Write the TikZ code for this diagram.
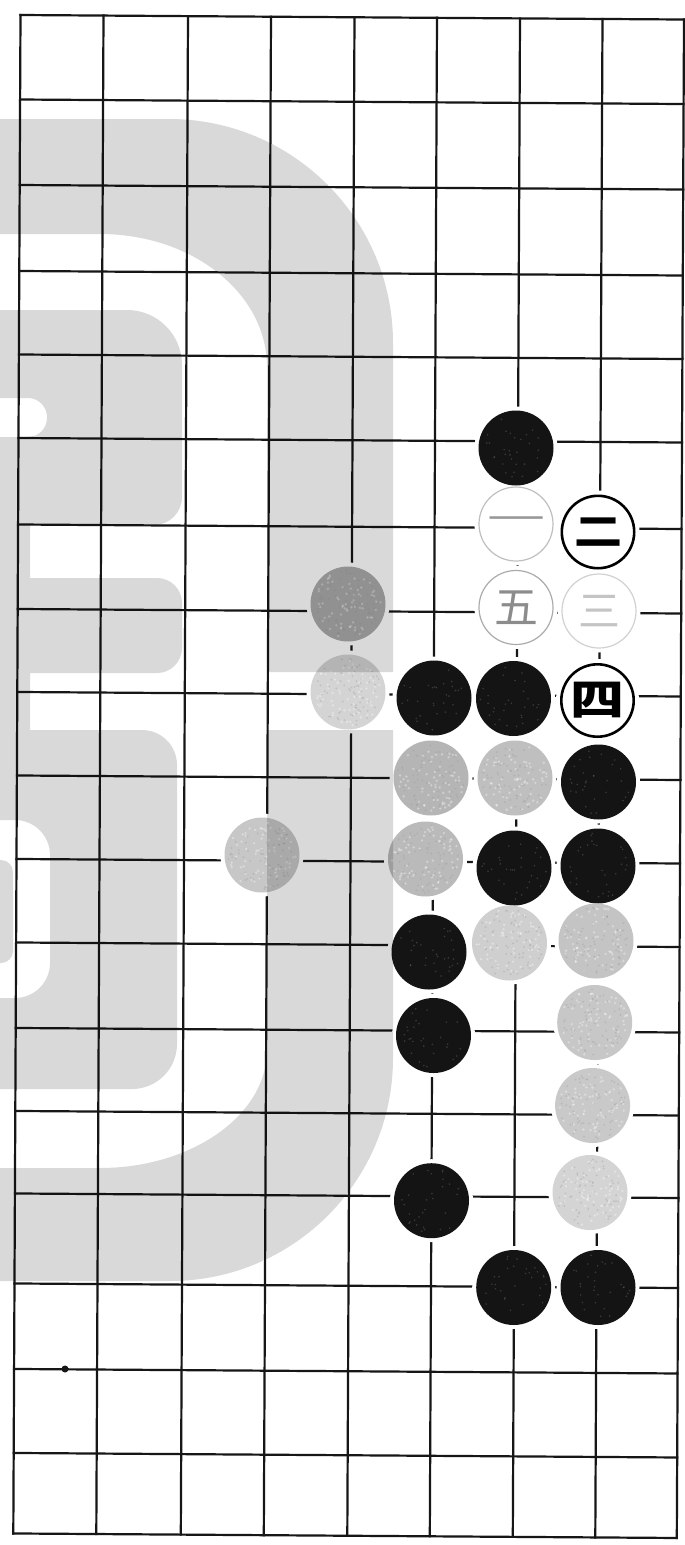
\documentclass[tikz,border=0pt]{standalone}
\usepackage{fontspec}
\usepackage{graphicx}
\newfontfamily\cjk{Noto Sans CJK SC}
\definecolor{wm}{RGB}{217,217,217}
\definecolor{ink}{RGB}{22,22,22}
\definecolor{stblack}{RGB}{20,20,20}
\tikzset{
  gridline/.style={line width=2.2pt, draw=ink, line cap=rect},
  stone/.style={circle, inner sep=0pt, outer sep=0pt, minimum size=75pt},
  bstone/.style={stone, fill=stblack},
  wstone/.style={stone, fill=#1},
  halo/.style={circle, inner sep=0pt, outer sep=0pt, minimum size=83pt, fill=white},
  numthick/.style={stone, minimum size=72.4pt, draw=black, line width=2.6pt, fill=white},
  numthin/.style={stone, minimum size=74pt, draw=#1, line width=1.2pt, fill=white},
  numtext/.style={inner sep=0pt, outer sep=0pt, font=\cjk, text=#1},
  speck/.style={fill=#1, opacity=0.35},
}
\begin{document}
\begin{tikzpicture}[x=1pt,y=-1pt]
\pgfmathsetseed{4242}
\useasboundingbox (0,0) rectangle (685,1545);
\fill[white] (0,0) rectangle (685,1545);
% grid coordinates
\def\colX{{20.5,103.5,188,271,354.5,437,520,602.5,684}}
\def\rowY{{15,99.5,185,271,354.5,438,524.5,609,692,775.5,859,942.5,1028,1111,1193.5,1283.5,1369,1453,1533.5}}
\foreach \i in {0,...,8}{\foreach \j in {0,...,18}{
  \pgfmathsetmacro\xx{\colX[\i]-0.4*\j}
  \pgfmathsetmacro\yy{\rowY[\j]+0.0068*(\xx-20)}
  \coordinate (g-\i-\j) at (\xx,\yy);
}}
\foreach \j in {0,...,18} \draw[gridline] (g-0-\j) -- (g-8-\j);
\foreach \i in {0,...,8} \draw[gridline] (g-\i-0) -- (g-\i-18);
\fill[ink] (65,1369) circle (3.5);
% stone centres
\foreach \nm/\x/\y in {b1/516/448, n1/516/524, n2/598/532, w1/348/604, n5/516/607.5, n3/599/611,
  w2/348/692, b2/434/698, b3/513.5/698.5, n4/597.5/700.5, w3/431/778, w4/515/778, b4/598.5/782,
  w5/262/855, w6/425.5/859, b5/514/868, b6/598/866, b7/429/952, w7/509.5/943, w8/596/941,
  b8/433.5/1035.5, w9/594.7/1022.5, w10/592.6/1105.5, b9/431.5/1200.7, w11/590/1192.5,
  b10/513.7/1287.5, b11/598/1287.5}
  \coordinate (s-\nm) at (\x,\y);
\foreach \nm in {b1,n1,n2,w1,n5,n3,w2,b2,b3,n4,w3,w4,b4,w5,w6,b5,b6,b7,w7,w8,b8,w9,w10,b9,w11,b10,b11}
  \node[halo] (h-\nm) at (s-\nm) {};
% black stones
\node[bstone] (b1) at (s-b1) {};
\node[bstone] (b2) at (s-b2) {};
\node[bstone] (b3) at (s-b3) {};
\node[bstone] (b4) at (s-b4) {};
\node[bstone] (b5) at (s-b5) {};
\node[bstone] (b6) at (s-b6) {};
\node[bstone] (b7) at (s-b7) {};
\node[bstone] (b8) at (s-b8) {};
\node[bstone] (b9) at (s-b9) {};
\node[bstone] (b10) at (s-b10) {};
\node[bstone] (b11) at (s-b11) {};
% grey (white) stones
\node[wstone=black!33] (w1) at (s-w1) {};
\node[wstone=black!17] (w2) at (s-w2) {};
\node[wstone=black!29] (w3) at (s-w3) {};
\node[wstone=black!25] (w4) at (s-w4) {};
\node[wstone=black!22] (w5) at (s-w5) {};
\node[wstone=black!27] (w6) at (s-w6) {};
\node[wstone=black!19] (w7) at (s-w7) {};
\node[wstone=black!23] (w8) at (s-w8) {};
\node[wstone=black!22] (w9) at (s-w9) {};
\node[wstone=black!21] (w10) at (s-w10) {};
\node[wstone=black!17] (w11) at (s-w11) {};
% printed grain on the stones
\foreach \nm in {w1,w2,w3,w4,w5,w6,w7,w8,w9,w10,w11}{
  \foreach \k in {1,...,70}{
    \pgfmathsetmacro\ang{360*rnd}\pgfmathsetmacro\rr{34*sqrt(rnd)}
    \fill[speck=white] (\nm) ++(\ang:\rr) circle (1.3);
    \pgfmathsetmacro\angb{360*rnd}\pgfmathsetmacro\rrb{34*sqrt(rnd)}
    \fill[speck=black!40] (\nm) ++(\angb:\rrb) circle (1.0);
  }}
\foreach \nm in {b1,b2,b3,b4,b5,b6,b7,b8,b9,b10,b11}{
  \foreach \k in {1,...,30}{
    \pgfmathsetmacro\ang{360*rnd}\pgfmathsetmacro\rr{33*sqrt(rnd)}
    \fill[speck=black!50] (\nm) ++(\ang:\rr) circle (0.9);
  }}
% numbered stones
\node[numthin=black!25] (n1) at (s-n1) {};
\node[numtext=black!40] (n1t) at (n1) {\fontsize{58}{58}\selectfont\scalebox{1}[0.55]{一}};
\node[numthick] (n2) at (s-n2) {};
\node[numtext=black] (n2t) at (n2) {\bfseries\fontsize{48}{48}\selectfont\scalebox{1}[0.8]{二}};
\node[numthin=black!33] (n5) at (s-n5) {};
\node[numtext=black!45] (n5t) at (n5) {\fontsize{44}{44}\selectfont 五};
\node[numthin=black!18] (n3) at (s-n3) {};
\node[numtext=black!23] (n3t) at (n3) {\fontsize{42}{42}\selectfont 三};
\node[numthick] (n4) at (s-n4) {};
\node[numtext=black] (n4t) at (n4) {\bfseries\fontsize{54}{54}\selectfont\scalebox{1}[0.8]{四}};
% watermark
\begin{scope}[blend mode=multiply]
\fill[wm, even odd rule]
  (-5,119) -- (169,119) .. controls (292.7,119) and (393,219.3) .. (393,343) -- (393,672) -- (267,672)
    -- (267,367) .. controls (267,293.5) and (192.8,234) .. (100,234) -- (-5,234) -- cycle
  (267,730) -- (393,730) -- (393,1058) .. controls (393,1181.2) and (293.2,1281) .. (170,1281)
    -- (-5,1281) -- (-5,1168) -- (100,1168) .. controls (191.7,1168) and (267,1115.2) .. (267,1050) -- cycle
  (-5,310) [rounded corners=55pt] -- (182,310) [rounded corners=28pt] -- (182,525) [sharp corners]
    -- (30,525) -- (30,578) [rounded corners=25pt] -- (182,578) -- (182,673) [sharp corners]
    -- (30,673) -- (30,730) [rounded corners=35pt] -- (177,730) [rounded corners=45pt] -- (177,1089)
    [sharp corners] -- (-5,1089) -- cycle
  (-10,398) [rounded corners=19pt] -- (47,398) -- (47,437) [sharp corners] -- (-10,437) -- cycle
  (-10,820) [rounded corners=35pt] -- (50,820) -- (50,998) [sharp corners] -- (-10,998) -- cycle
  (-15,860) [rounded corners=12pt] -- (13,860) -- (13,963) [sharp corners] -- (-15,963) -- cycle;
\end{scope}
\end{tikzpicture}
\end{document}
